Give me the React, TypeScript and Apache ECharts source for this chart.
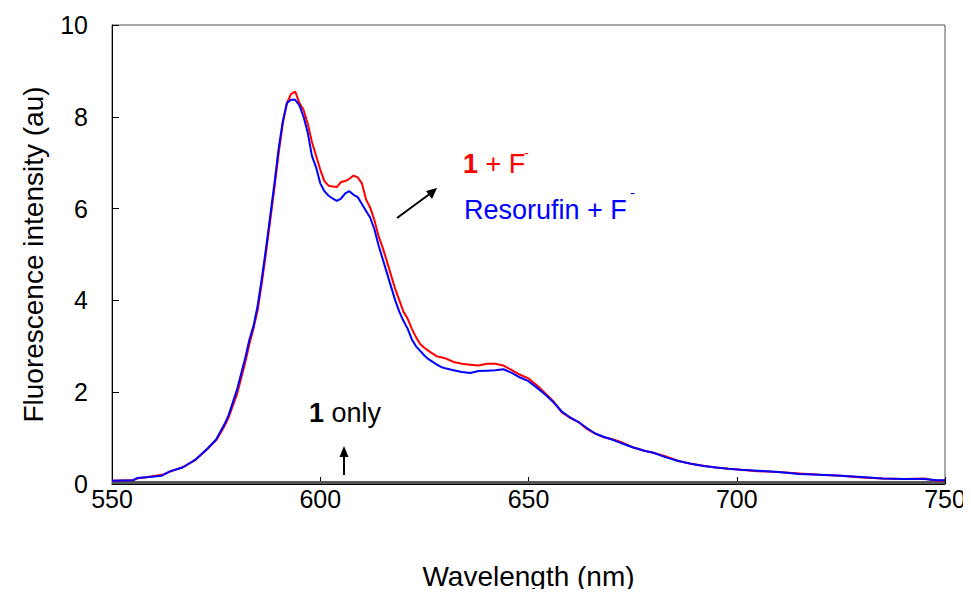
import React, { useEffect, useRef } from "react";
import * as echarts from "echarts";

const wavelengths = [550, 555, 556, 559, 562, 564, 567, 570, 573, 575, 577, 578, 580, 581, 582, 583, 584, 585, 586, 587, 588, 589, 590, 591, 592, 593, 594, 595, 596, 597, 598, 599, 600, 601, 602, 603, 604, 605, 606, 607, 608, 609, 610, 611, 612, 613, 614, 615, 616, 617, 618, 619, 620, 621, 622, 623, 624, 625, 626, 627, 628, 629, 630, 632, 634, 636, 638, 640, 642, 644, 646, 648, 650, 652, 654, 656, 658, 660, 662, 664, 666, 668, 670, 672, 675, 678, 680, 683, 686, 689, 692, 695, 698, 701, 705, 710, 715, 720, 725, 730, 735, 740, 745, 748, 750];

const resorufinF = [0.07, 0.08, 0.13, 0.15, 0.18, 0.28, 0.36, 0.53, 0.78, 0.97, 1.3, 1.5, 2.05, 2.4, 2.75, 3.15, 3.45, 3.9, 4.5, 5.15, 5.85, 6.55, 7.3, 7.9, 8.3, 8.37, 8.37, 8.25, 8.0, 7.65, 7.15, 6.9, 6.55, 6.38, 6.28, 6.22, 6.17, 6.22, 6.33, 6.38, 6.3, 6.25, 6.1, 5.95, 5.8, 5.55, 5.2, 4.9, 4.6, 4.3, 4.0, 3.75, 3.55, 3.38, 3.15, 3.0, 2.9, 2.8, 2.72, 2.66, 2.6, 2.55, 2.52, 2.48, 2.44, 2.42, 2.46, 2.47, 2.48, 2.5, 2.42, 2.32, 2.24, 2.1, 1.95, 1.78, 1.58, 1.45, 1.35, 1.22, 1.1, 1.03, 0.97, 0.9, 0.8, 0.72, 0.68, 0.58, 0.5, 0.44, 0.39, 0.36, 0.33, 0.31, 0.29, 0.26, 0.22, 0.2, 0.18, 0.15, 0.12, 0.11, 0.11, 0.08, 0.08];

const compound1F = [0.07, 0.08, 0.12, 0.16, 0.2, 0.27, 0.37, 0.52, 0.77, 0.95, 1.26, 1.45, 1.95, 2.3, 2.65, 3.05, 3.4, 3.8, 4.4, 5.05, 5.75, 6.45, 7.2, 7.85, 8.3, 8.5, 8.55, 8.3, 8.15, 7.85, 7.45, 7.15, 6.85, 6.6, 6.5, 6.48, 6.47, 6.58, 6.6, 6.65, 6.72, 6.68, 6.55, 6.2, 6.02, 5.75, 5.4, 5.15, 4.85, 4.55, 4.25, 4.0, 3.75, 3.6, 3.38, 3.2, 3.05, 2.97, 2.9, 2.84, 2.78, 2.76, 2.74, 2.66, 2.62, 2.6, 2.58, 2.62, 2.62, 2.58, 2.48, 2.38, 2.3, 2.15, 1.98, 1.8, 1.56, 1.44, 1.35, 1.2, 1.1, 1.02, 0.98, 0.92, 0.8, 0.72, 0.68, 0.6, 0.5, 0.44, 0.4, 0.36, 0.33, 0.31, 0.28, 0.26, 0.23, 0.2, 0.18, 0.14, 0.12, 0.11, 0.12, 0.07, 0.08];

const compound1Only = [0.03, 0.03, 0.03, 0.03, 0.03, 0.03, 0.03, 0.03, 0.03, 0.03, 0.03, 0.03, 0.03, 0.03, 0.03, 0.03, 0.03, 0.03, 0.03, 0.03, 0.03, 0.03, 0.03, 0.03, 0.03, 0.03, 0.03, 0.03, 0.03, 0.03, 0.03, 0.03, 0.03, 0.03, 0.03, 0.03, 0.03, 0.03, 0.03, 0.03, 0.03, 0.03, 0.03, 0.03, 0.03, 0.03, 0.03, 0.03, 0.03, 0.03, 0.03, 0.03, 0.03, 0.03, 0.03, 0.03, 0.03, 0.03, 0.03, 0.03, 0.03, 0.03, 0.03, 0.03, 0.03, 0.03, 0.03, 0.03, 0.03, 0.03, 0.03, 0.03, 0.03, 0.03, 0.03, 0.03, 0.03, 0.03, 0.03, 0.03, 0.03, 0.03, 0.03, 0.03, 0.03, 0.03, 0.03, 0.03, 0.03, 0.03, 0.03, 0.03, 0.03, 0.03, 0.03, 0.03, 0.03, 0.03, 0.03, 0.03, 0.03, 0.03, 0.03, 0.03, 0.03];

const xTicks = { min: 550, max: 750, interval: 50 };
const yTicks = { min: 0, max: 10, interval: 2 };

const FONT = "'Liberation Sans', Arial, sans-serif";

export default function App() {
  const ref = useRef<HTMLDivElement>(null);
  useEffect(() => {
    if (!ref.current) return;
    const chart = echarts.init(ref.current, undefined, { renderer: "svg" });
    const pair = (arr: number[]) => wavelengths.map((w, i) => [w, arr[i]]);
    chart.setOption({
      animation: false,
      backgroundColor: "#fff",
      grid: {
        left: 112,
        right: 26,
        top: 25,
        bottom: 113,
        show: true,
        borderColor: "#555",
        borderWidth: 1,
      },
      xAxis: {
        type: "value",
        min: xTicks.min,
        max: xTicks.max,
        interval: xTicks.interval,
        name: "Wavelength (nm)",
        nameLocation: "middle",
        nameGap: 78,
        nameTextStyle: { fontFamily: FONT, fontSize: 28, color: "#000" },
        axisLine: { show: true, lineStyle: { color: "#000", width: 1 } },
        axisTick: { show: true, inside: true, length: 7, lineStyle: { color: "#000" } },
        axisLabel: { fontFamily: FONT, fontSize: 25, color: "#000", margin: 2 },
        splitLine: { show: false },
      },
      yAxis: {
        type: "value",
        min: yTicks.min,
        max: yTicks.max,
        interval: yTicks.interval,
        name: "Fluorescence intensity (au)",
        nameLocation: "middle",
        nameGap: 65,
        nameTextStyle: { fontFamily: FONT, fontSize: 28, color: "#000" },
        axisLine: { show: true, lineStyle: { color: "#000", width: 1 } },
        axisTick: { show: true, inside: true, length: 7, lineStyle: { color: "#000" } },
        axisLabel: { fontFamily: FONT, fontSize: 25, color: "#000", margin: 24 },
        splitLine: { show: false },
      },
      series: [
        {
          name: "1 only",
          type: "line",
          data: pair(compound1Only),
          showSymbol: false,
          lineStyle: { color: "#555", width: 3 },
          z: 1,
        },
        {
          name: "1 + F-",
          type: "line",
          data: pair(compound1F),
          showSymbol: false,
          lineStyle: { color: "#ff0000", width: 2 },
          z: 2,
        },
        {
          name: "Resorufin + F-",
          type: "line",
          data: pair(resorufinF),
          showSymbol: false,
          lineStyle: { color: "#0000ff", width: 2 },
          z: 3,
        },
      ],
      graphic: [
        {
          type: "text",
          x: 463,
          y: 164,
          style: {
            text: "{b|1}{n| + F}",
            verticalAlign: "middle",
            rich: {
              b: { fontFamily: FONT, fontSize: 27, fontWeight: "bold", fill: "#ff0000" },
              n: { fontFamily: FONT, fontSize: 27, fill: "#ff0000" },
            },
          },
        },
        {
          type: "text",
          x: 524,
          y: 152,
          style: { text: "-", fontFamily: FONT, fontSize: 15, fill: "#ff0000", verticalAlign: "middle" },
        },
        {
          type: "text",
          x: 464,
          y: 210,
          style: { text: "Resorufin + F", fontFamily: FONT, fontSize: 27, fill: "#0000ff", verticalAlign: "middle" },
        },
        {
          type: "text",
          x: 630,
          y: 192,
          style: { text: "-", fontFamily: FONT, fontSize: 15, fill: "#0000ff", verticalAlign: "middle" },
        },
        {
          type: "line",
          shape: { x1: 397, y1: 218, x2: 431, y2: 193 },
          style: { stroke: "#000", lineWidth: 2 },
        },
        {
          type: "polygon",
          shape: { points: [[437, 188], [426, 191], [432, 199]] },
          style: { fill: "#000" },
        },
        {
          type: "text",
          x: 309,
          y: 413,
          style: {
            text: "{b|1}{n| only}",
            verticalAlign: "middle",
            rich: {
              b: { fontFamily: FONT, fontSize: 27, fontWeight: "bold", fill: "#000" },
              n: { fontFamily: FONT, fontSize: 27, fill: "#000" },
            },
          },
        },
        {
          type: "line",
          shape: { x1: 344, y1: 475, x2: 344, y2: 455 },
          style: { stroke: "#000", lineWidth: 2 },
        },
        {
          type: "polygon",
          shape: { points: [[344, 446], [339.5, 457], [348.5, 457]] },
          style: { fill: "#000" },
        },
      ],
    });
    return () => chart.dispose();
  }, []);
  return <div ref={ref} style={{ width: 971, height: 597, margin: -8 }} />;
}
